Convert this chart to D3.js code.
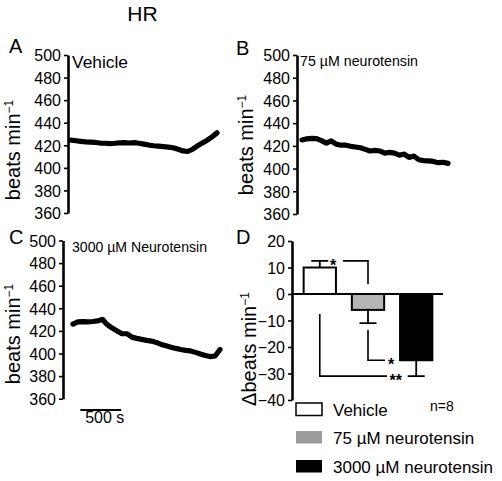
<!DOCTYPE html>
<html><head><meta charset="utf-8">
<script src="https://cdn.jsdelivr.net/npm/d3@7"></script>
<style>
body{margin:0;background:#fff;}
svg{display:block;font-family:"Liberation Sans",Arial,sans-serif;}
</style></head><body>
<svg id="c" width="502" height="481"></svg>
<script>
// ---- data ----
const timeSec = d3.range(0, 1801, 60);
const vehicleHR = [424.5,424,423.5,423,422.8,422.5,422,421.8,421.5,421.8,422.2,422.3,422,422.4,421.8,421,420.2,419.6,419.2,418.8,418.4,417.8,416.5,415,414.5,416.5,419.5,422,424.5,427.5,431];
const nt75HR = [425.2,426.2,426.6,426.4,424.6,422.4,424.4,421.5,420.6,420.6,419.6,419,418.3,416.9,415.5,416,415.5,413.6,414.2,413.6,411.8,412.8,409.8,411,407.8,407,406.8,406.3,405.2,405.5,404.6];
const nt3000HR = [426,428,428.2,428,428.3,428.8,430.2,425.5,422.5,420,417.5,417.5,414.5,413.4,412.5,411.6,411,409.8,408,406.8,405.6,404.5,403.6,402.8,402.3,401,399.5,398.2,397.3,397.8,403.5];
const hrTicks = [360,380,400,420,440,460,480,500];
const groups = ["Vehicle","75 µM neurotensin","3000 µM neurotensin"];
const deltaMean = [10,-6,-25];
const deltaSem = [2.5,5,6];
const deltaTicks = [-40,-30,-20,-10,0,10,20];
const scaleBarSec = 500;

const svg = d3.select("#c");
const FONT = "16px";

function tickFmt(d){ return d < 0 ? "\u2212" + Math.abs(d) : String(d); }

function yAxis(g, y, ticks){
  const ax = d3.axisLeft(y).tickValues(ticks).tickSize(4).tickSizeOuter(0).tickPadding(3).tickFormat(tickFmt);
  g.call(ax);
  g.select(".domain").attr("stroke","#000").attr("stroke-width",2.6);
  g.selectAll(".tick line").attr("stroke","#000").attr("stroke-width",1.6);
  g.selectAll(".tick text").attr("font-size",FONT).attr("fill","#000").attr("font-family","Liberation Sans, Arial, sans-serif").attr("dy","0.36em");
}

function yLabel(x, yc, delta){
  const t = svg.append("text").attr("transform",`translate(${x},${yc}) rotate(-90)`)
    .attr("text-anchor","middle").attr("font-size","20px").attr("fill","#000");
  t.append("tspan").text((delta?"\u0394":"")+"beats min");
  t.append("tspan").attr("font-size","12px").attr("dy","-0.6em").text("\u22121");
}

function tracePanel(opts){
  const y = d3.scaleLinear().domain([360,500]).range(opts.yr);
  const x = d3.scaleLinear().domain([0,1800]).range(opts.xr);
  const g = svg.append("g").attr("transform",`translate(${opts.ax},0)`);
  yAxis(g, y, hrTicks);
  const line = d3.line().x((d,i)=>x(timeSec[i])).y(d=>y(d)).curve(d3.curveLinear);
  svg.append("path").datum(opts.data).attr("d",line).attr("fill","none")
    .attr("stroke","#000").attr("stroke-width",5.2).attr("stroke-linejoin","round").attr("stroke-linecap","round");
  svg.append("text").attr("x",opts.lx).attr("y",opts.ly).attr("font-size","20px").text(opts.letter);
  const lab = svg.append("text").attr("x",opts.tx).attr("y",opts.ty).attr("font-size",opts.tfs).text(opts.title);
  if(opts.tlen) lab.attr("textLength",opts.tlen).attr("lengthAdjust","spacingAndGlyphs");
  yLabel(opts.ylx, opts.yly, false);
  return {x,y};
}

svg.append("text").attr("x",142.5).attr("y",21).attr("text-anchor","middle").attr("font-size","21px").text("HR");

tracePanel({data:vehicleHR, yr:[213,55], xr:[71,217], ax:68, letter:"A", lx:9, ly:53,
  title:"Vehicle", tx:72, ty:68, tfs:"16px", tlen:56, ylx:20, yly:150});
tracePanel({data:nt75HR, yr:[214,55], xr:[302,448], ax:297, letter:"B", lx:236, ly:55,
  title:"75 µM neurotensin", tx:300, ty:66, tfs:"14px", tlen:118, ylx:253, yly:145});
const pc = tracePanel({data:nt3000HR, yr:[398.7,240.5], xr:[73,220], ax:63, letter:"C", lx:9, ly:244,
  title:"3000 µM Neurotensin", tx:72, ty:252, tfs:"15px", tlen:135, ylx:20, yly:334});

// scale bar
const sb0 = 90;
svg.append("line").attr("x1",pc.x(sb0)).attr("x2",pc.x(sb0+scaleBarSec)).attr("y1",410).attr("y2",410)
  .attr("stroke","#000").attr("stroke-width",2);
svg.append("text").attr("x",(pc.x(sb0)+pc.x(sb0+scaleBarSec))/2+4).attr("y",423).attr("text-anchor","middle")
  .attr("font-size","16px").text(scaleBarSec+" s");

// ---- panel D ----
const yD = d3.scaleLinear().domain([-40,20]).range([400,241]);
const xD = d3.scaleBand().domain(groups).range([294,442]).paddingInner(0.33).paddingOuter(0.2);
const fills = ["#ffffff","#b5b5b5","#000000"];
const gD = svg.append("g").attr("transform","translate(292,0)");
yAxis(gD, yD, deltaTicks);
svg.append("text").attr("x",236).attr("y",244).attr("font-size","20px").text("D");
yLabel(256, 349, true);

groups.forEach((g,i)=>{
  const m = deltaMean[i], s = deltaSem[i];
  const x0 = xD(g), bw = xD.bandwidth(), cx = x0+bw/2;
  svg.append("rect").attr("x",x0).attr("width",bw)
    .attr("y",Math.min(yD(m),yD(0))).attr("height",Math.abs(yD(m)-yD(0)))
    .attr("fill",fills[i]).attr("stroke","#000").attr("stroke-width",2);
  const e = m>=0 ? m+s : m-s;
  svg.append("line").attr("x1",cx).attr("x2",cx).attr("y1",yD(m)).attr("y2",yD(e)).attr("stroke","#000").attr("stroke-width",1.8);
  svg.append("line").attr("x1",cx-8.5).attr("x2",cx+8.5).attr("y1",yD(e)).attr("y2",yD(e)).attr("stroke","#000").attr("stroke-width",1.8);
});
// zero line
svg.append("line").attr("x1",292).attr("x2",443).attr("y1",yD(0)).attr("y2",yD(0)).attr("stroke","#000").attr("stroke-width",2.2);

// significance brackets
const cxs = groups.map(g=>xD(g)+xD.bandwidth()/2);
const sig = svg.append("g").attr("fill","none").attr("stroke","#000").attr("stroke-width",1.6);
const yTop = yD(deltaMean[0]+deltaSem[0]);
sig.append("path").attr("d",`M343,${yTop}H${cxs[1]}V${yD(3.7)}`);
sig.append("path").attr("d",`M${cxs[1]},${yD(-13.5)}V${yD(deltaMean[2])}H385`);
sig.append("path").attr("d",`M${cxs[0]},${yD(-7.5)}V${yD(-31)}H387`);
function star(x,yc,t){
  svg.append("text").attr("x",x).attr("y",yc+9.2).attr("font-size","16px").attr("font-weight","bold").text(t);
}
star(330, yTop+1, "*");
star(388, yD(deltaMean[2])+0.5, "*");
star(389.5, yD(-31)+0.5, "**");

// legend
const legY = [403,431,460];
const legFill = ["#ffffff","#9c9c9c","#000000"];
groups.forEach((g,i)=>{
  svg.append("rect").attr("x",296).attr("y",legY[i]).attr("width",26).attr("height",12.5)
    .attr("fill",legFill[i]).attr("stroke", i===0?"#000":"none").attr("stroke-width",1.5);
  svg.append("text").attr("x",333).attr("y",legY[i]+13).attr("font-size","17px").text(g);
});
svg.append("text").attr("x",430).attr("y",411).attr("font-size","14px").text("n=8");
</script>
</body></html>
